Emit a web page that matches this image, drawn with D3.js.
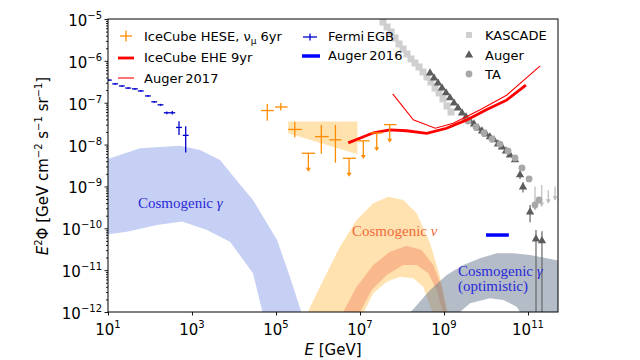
<!DOCTYPE html>
<html>
<head>
<meta charset="utf-8">
<script src="https://cdn.jsdelivr.net/npm/d3@7"></script>
<style>
  html, body { margin: 0; padding: 0; background: #fff; overflow: hidden; }
  svg { display: block; }
</style>
</head>
<body>
<script>
// E^2 Phi vs E, log-log

// Fermi EGB
const fermiE  = [10.5, 14.8, 21.4, 30.2, 43.7, 60.3, 89.1, 126, 178, 251, 339, 490, 708];
const fermiF  = [3.47e-7, 2.82e-7, 2.51e-7, 2.24e-7, 2.14e-7, 1.91e-7, 1.45e-7, 1.05e-7, 8.9e-8, 5.75e-8, 5.75e-8, 2.57e-8, 1.66e-8];
const fermiLo = [3.3e-7, 2.7e-7, 2.4e-7, 2.14e-7, 2.04e-7, 1.82e-7, 1.38e-7, 1.0e-7, 8.4e-8, 5.3e-8, 5.2e-8, 1.7e-8, 6.5e-9];
const fermiHi = [3.64e-7, 2.95e-7, 2.63e-7, 2.35e-7, 2.25e-7, 2.0e-7, 1.52e-7, 1.1e-7, 9.4e-8, 6.2e-8, 6.3e-8, 3.6e-8, 2.75e-8];
const fermiBin = 1.175;

// IceCube HESE
const heseE   = [6.2e4, 1.3e5, 2.8e5, 5.9e5, 1.2e6, 2.6e6, 5.5e6, 1.2e7, 2.5e7, 5.1e7];
const heseELo = [4.4e4, 9.5e4, 1.95e5, 4.1e5, 8.5e5, 1.85e6, 3.9e6, 8.5e6, 1.78e7, 3.7e7];
const heseEHi = [8.9e4, 1.9e5, 4.1e5, 8.5e5, 1.8e6, 3.6e6, 8.0e6, 1.7e7, 3.47e7, 7.4e7];
const heseF   = [6.5e-8, 7.9e-8, 2.3e-8, 6.2e-9, 1.55e-8, 1.3e-8, 4.7e-9, 1.23e-8, 1.9e-8, 3.0e-8];
const heseFLo = [3.7e-8, 6.5e-8, 1.5e-8, 2.25e-9, 6.0e-9, 3.7e-9, 1.7e-9, 4.5e-9, 6.9e-9, 1.1e-8];
const heseFHi = [9.3e-8, 9.8e-8, 3.5e-8, null, 2.95e-8, 2.95e-8, null, null, null, null];
const heseUL  = [false, false, false, true, false, false, true, true, true, true];

// IceCube numu 6yr band
const numuE  = [1.95e5, 8.7e6];
const numuHi = [3.55e-8, 3.55e-8];
const numuLo = [1.86e-8, 5.9e-9];

// IceCube EHE 9yr
const eheE = [5.25e6, 2.09e7, 5.13e7, 1.29e8, 3.89e8, 1.15e9, 3.47e9, 1.02e10, 3.09e10, 8.9e10];
const eheF = [1.10e-8, 1.91e-8, 2.24e-8, 2.14e-8, 1.86e-8, 2.45e-8, 3.89e-8, 6.76e-8, 1.15e-7, 2.63e-7];

// Auger 2017
const auger17E = [6.0e7, 1.86e8, 6.17e8, 1.66e9, 7.24e9, 3.09e10, 1.95e11];
const auger17F = [1.62e-7, 3.89e-8, 2.45e-8, 3.24e-8, 6.76e-8, 1.51e-7, 7.6e-7];

// Auger 2016 photon limit
const auger16E = [1.0e10, 3.5e10];
const auger16F = [6.9e-11, 6.9e-11];

// cosmic rays
const kascadeE = [3.53e7, 4.40e7, 5.47e7, 6.81e7, 8.49e7, 1.06e8, 1.32e8, 1.64e8, 2.04e8, 2.54e8, 3.16e8, 3.94e8, 4.90e8, 6.11e8, 7.60e8, 9.46e8, 1.18e9, 1.47e9];
const kascadeF = [8.47e-6, 6.44e-6, 4.89e-6, 3.52e-6, 2.53e-6, 1.92e-6, 1.46e-6, 1.11e-6, 8.89e-7, 7.13e-7, 5.42e-7, 4.11e-7, 3.13e-7, 2.25e-7, 1.71e-7, 1.23e-7, 8.36e-8, 6.0e-8];

const augerE  = [4.65e8, 5.78e8, 7.19e8, 8.96e8, 1.12e9, 1.39e9, 1.73e9, 2.15e9, 2.69e9, 3.34e9, 4.16e9, 5.18e9, 6.46e9, 8.04e9, 1.0e10, 1.24e10, 1.55e10, 1.93e10, 2.40e10, 2.99e10, 3.72e10, 4.90e10, 6.46e10, 7.60e10, 1.12e11, 1.55e11, 2.15e11];
const augerF  = [5.13e-7, 3.90e-7, 2.96e-7, 2.25e-7, 1.71e-7, 1.30e-7, 9.84e-8, 7.48e-8, 5.68e-8, 4.56e-8, 3.66e-8, 3.10e-8, 2.49e-8, 2.11e-8, 1.79e-8, 1.52e-8, 1.29e-8, 1.03e-8, 8.75e-9, 7.03e-9, 5.64e-9, 4.29e-9, 1.88e-9, 9.7e-10, 2.45e-10, 5.5e-11, 5.0e-11];
const augerLo = [null, null, null, null, null, null, null, null, null, null, null, null, null, null, null, null, null, null, null, null, null, null, 1.5e-9, 7.2e-10, 1.4e-10, 1e-13, 1e-13];
const augerHi = [null, null, null, null, null, null, null, null, null, null, null, null, null, null, null, null, null, null, null, null, null, null, 2.3e-9, 1.25e-9, 3.6e-10, 9.1e-11, 8.5e-11];

const taE = [3.72e9, 5.78e9, 8.96e9, 1.39e10, 2.15e10, 3.34e10, 4.90e10, 7.19e10, 1.06e11, 1.47e11, 1.83e11];
const taF = [3.66e-8, 2.63e-8, 1.89e-8, 1.36e-8, 1.03e-8, 7.03e-9, 4.79e-9, 2.76e-9, 1.51e-9, 3.60e-10, 4.74e-10];
const taUlE  = [1.47e11, 2.12e11, 3.04e11, 4.40e11];
const taUlF  = [9.9e-10, 1.08e-9, 8.2e-10, 9.9e-10];
const taUlLo = [2.7e-10, 3.3e-10, 3.95e-10, 4.7e-10];

// cosmogenic gamma band
const gamUpE = [8, 57.8, 518, 1550, 4650, 9460, 2.83e4, 1.06e5, 2.15e5, 4.16e5];
const gamUpF = [4.2e-9, 8.15e-9, 9.4e-9, 7.4e-9, 4.29e-9, 1.78e-9, 4.74e-10, 5.25e-11, 6.9e-12, 8.9e-13];
const gamLoE = [8, 28.2, 147, 578, 2275, 8035, 2.83e4, 4.9e4];
const gamLoF = [7.0e-11, 8.3e-11, 1.2e-10, 1.45e-10, 9.1e-11, 4.8e-11, 8.4e-12, 8.9e-13];

// cosmogenic neutrino bands
const nuOutUpE = [4.64e5, 1.34e6, 3.34e6, 8.34e6, 2.07e7, 4.72e7, 1.07e8, 2.24e8, 4.65e8, 8.04e8, 1.35e9];
const nuOutUpF = [6.5e-13, 5.82e-12, 3.63e-11, 1.58e-10, 3.95e-10, 5.69e-10, 4.74e-10, 2.28e-10, 4.39e-11, 6.98e-12, 6.5e-13];
const nuOutLoE = [1.0e7, 2.07e7, 4.33e7, 8.96e7, 1.86e8, 3.21e8, 6.11e8];
const nuOutLoF = [6.5e-13, 2.80e-12, 5.30e-12, 6.98e-12, 6.40e-12, 4.03e-12, 6.5e-13];
const nuInUpE = [3.16e6, 8.34e6, 2.07e7, 5.18e7, 1.29e8, 2.94e8, 5.56e8, 8.81e8, 1.24e9];
const nuInUpF = [6.5e-13, 4.03e-12, 1.33e-11, 2.76e-11, 3.84e-11, 3.03e-11, 1.33e-11, 4.03e-12, 6.5e-13];
const nuInLoE = [8.04e6, 1.90e7, 4.33e7, 1.07e8, 2.24e8, 4.23e8, 6.70e8, 1.06e9];
const nuInLoF = [6.5e-13, 3.36e-12, 7.66e-12, 1.33e-11, 1.33e-11, 8.41e-12, 3.36e-12, 6.5e-13];

// cosmogenic gamma (optimistic)
const optUpE = [1.12e8, 4.65e8, 1.16e9, 2.88e9, 7.19e9, 1.80e10, 4.47e10, 1.12e11, 2.79e11, 5.78e11, 5.78e11];
const optUpF = [6.5e-13, 3.36e-12, 7.66e-12, 1.33e-11, 1.92e-11, 2.53e-11, 2.53e-11, 2.30e-11, 1.92e-11, 1.66e-11, 6.5e-13];
const optHoleE = [1.47e9, 4.16e9, 1.24e10, 2.58e10, 5.38e10, 8.49e10];
const optHoleF = [6.5e-13, 1.61e-12, 2.13e-12, 1.94e-12, 1.34e-12, 6.5e-13];

const xExps = [1, 3, 5, 7, 9, 11];
const yExps = [-12, -11, -10, -9, -8, -7, -6, -5];

const margin = {top: 19, left: 108};
const innerWidth = 450;
const innerHeight = 293;

const svg = d3.select("body").append("svg")
    .attr("width", 640)
    .attr("height", 360);

svg.append("defs").append("clipPath").attr("id", "clip")
    .append("rect").attr("width", innerWidth).attr("height", innerHeight);

const plot = svg.append("g")
    .attr("transform", "translate(" + margin.left + "," + margin.top + ")");

const x = d3.scaleLog().domain([10, 5.18e11]).range([0, innerWidth]);
const y = d3.scaleLog().domain([1e-12, 1e-5]).range([innerHeight, 0]);
// page coordinates
const px = e => margin.left + x(e);
const py = f => margin.top + y(f);

const layer = plot.append("g").attr("clip-path", "url(#clip)");

const zip = (E, F) => E.map((e, i) => [e, F[i]]);
const line = d3.line().x(d => x(d[0])).y(d => y(d[1]));
const poly = pts => line(pts) + "Z";

// bands
layer.append("path")
    .attr("d", poly(zip(gamUpE, gamUpF).concat(zip(gamLoE, gamLoF).reverse())))
    .attr("fill", "#c6d0f4");

layer.append("path")
    .attr("d", poly(zip(nuOutUpE, nuOutUpF).concat(zip(nuOutLoE, nuOutLoF).reverse())))
    .attr("fill", "#ffe2b0");

layer.append("path")
    .attr("d", poly(zip(nuInUpE, nuInUpF).concat(zip(nuInLoE, nuInLoF).reverse())))
    .attr("fill", "#f9b98c");

layer.append("path")
    .attr("d", poly(zip(numuE, numuHi).concat(zip(numuE, numuLo).reverse())))
    .attr("fill", "#ffa500").attr("fill-opacity", 0.32);

layer.append("path")
    .attr("d", poly(zip(optUpE, optUpF).concat(zip(optHoleE, optHoleF).reverse())))
    .attr("fill", "#6f7f94").attr("fill-opacity", 0.52);

// cosmic rays
layer.selectAll(".kascade")
    .data(zip(kascadeE, kascadeF))
    .join("rect")
    .attr("class", "kascade")
    .attr("x", d => x(d[0]) - 3.5).attr("y", d => y(d[1]) - 3.5)
    .attr("width", 7).attr("height", 7)
    .attr("fill", "#cfcfcf");

augerE.forEach((e, i) => {
    if (augerLo[i] === null) return;
    layer.append("line")
        .attr("x1", x(e)).attr("x2", x(e))
        .attr("y1", y(augerHi[i])).attr("y2", y(augerLo[i]))
        .attr("stroke", "#666").attr("stroke-width", 1.2);
});

taUlE.forEach((e, i) => {
    const xx = x(e), y1 = y(taUlF[i]), y2 = y(taUlLo[i]);
    layer.append("line")
        .attr("x1", xx).attr("x2", xx).attr("y1", y1).attr("y2", y2)
        .attr("stroke", "#bbb").attr("stroke-width", 1.2);
    layer.append("path")
        .attr("d", `M${xx - 2.5},${y2 - 4}L${xx + 2.5},${y2 - 4}L${xx},${y2}Z`)
        .attr("fill", "#bbb");
});

const tri = d3.symbol().type(d3.symbolTriangle).size(30);
layer.selectAll(".auger")
    .data(zip(augerE, augerF))
    .join("path")
    .attr("class", "auger")
    .attr("d", tri)
    .attr("transform", d => "translate(" + x(d[0]) + "," + y(d[1]) + ")")
    .attr("fill", "#5c5c5c");

layer.selectAll(".ta")
    .data(zip(taE, taF))
    .join("circle")
    .attr("class", "ta")
    .attr("cx", d => x(d[0])).attr("cy", d => y(d[1]))
    .attr("r", 3.4)
    .attr("fill", "#a8a8a8");

// lines
layer.append("path")
    .attr("d", line(zip(auger17E, auger17F)))
    .attr("fill", "none").attr("stroke", "red").attr("stroke-width", 1.1);

layer.append("path")
    .attr("d", line(zip(eheE, eheF)))
    .attr("fill", "none").attr("stroke", "red").attr("stroke-width", 2.8);

// Fermi EGB
const fermi = layer.append("g").attr("stroke", "mediumblue").attr("stroke-width", 1.3);
fermiE.forEach((e, i) => {
    fermi.append("line")
        .attr("x1", x(e / fermiBin)).attr("x2", x(e * fermiBin))
        .attr("y1", y(fermiF[i])).attr("y2", y(fermiF[i]));
    fermi.append("line")
        .attr("x1", x(e)).attr("x2", x(e))
        .attr("y1", y(fermiHi[i])).attr("y2", y(fermiLo[i]));
});

// IceCube HESE
const hese = layer.append("g");
heseE.forEach((e, i) => {
    const xx = x(e), yy = y(heseF[i]);
    hese.append("line")
        .attr("x1", x(heseELo[i])).attr("x2", x(heseEHi[i]))
        .attr("y1", yy).attr("y2", yy)
        .attr("stroke", "darkorange").attr("stroke-width", 1.3);
    if (heseUL[i]) {
        const yb = y(heseFLo[i]);
        hese.append("line")
            .attr("x1", xx).attr("x2", xx).attr("y1", yy).attr("y2", yb - 3)
            .attr("stroke", "darkorange").attr("stroke-width", 1.3);
        hese.append("path")
            .attr("d", `M${xx - 2.5},${yb - 4}L${xx + 2.5},${yb - 4}L${xx},${yb}Z`)
            .attr("fill", "darkorange");
    } else {
        hese.append("line")
            .attr("x1", xx).attr("x2", xx)
            .attr("y1", y(heseFHi[i])).attr("y2", y(heseFLo[i]))
            .attr("stroke", "darkorange").attr("stroke-width", 1.3);
    }
});

// Auger 2016
layer.append("path")
    .attr("d", line(zip(auger16E, auger16F)))
    .attr("stroke", "blue").attr("stroke-width", 3.5);

// axes
plot.append("g")
    .attr("transform", "translate(0," + innerHeight + ")")
    .call(d3.axisBottom(x).tickValues(xExps.map(k => Math.pow(10, k))).tickSize(3.5).tickFormat(""))
    .call(g => g.select(".domain").remove());

const yMinor = [];
for (let k = -12; k < -5; k++) for (let m = 2; m < 10; m++) yMinor.push(m * Math.pow(10, k));
plot.append("g")
    .call(d3.axisLeft(y).tickValues(yMinor).tickSize(2).tickFormat(""))
    .call(g => g.select(".domain").remove());
plot.append("g")
    .call(d3.axisLeft(y).tickValues(yExps.map(k => Math.pow(10, k))).tickSize(3.5).tickFormat(""))
    .call(g => g.select(".domain").remove());

plot.selectAll(".tick line").attr("stroke", "#000").attr("stroke-width", 0.9);
plot.selectAll(".tick text").remove();

plot.append("rect")
    .attr("width", innerWidth).attr("height", innerHeight)
    .attr("fill", "none").attr("stroke", "#000").attr("stroke-width", 1);

// all text sits directly on the svg, in page coordinates
const sans = "'DejaVu Sans', sans-serif";
const serif = "'Liberation Serif', 'Times New Roman', serif";
function addText(tx, ty, size, anchor, parts, opts) {
    opts = opts || {};
    const t = svg.append("text")
        .attr("x", tx).attr("y", ty)
        .attr("text-anchor", anchor || "start")
        .style("font-family", opts.family || sans)
        .style("font-size", size + "px")
        .style("fill", opts.fill || "#000");
    if (opts.transform) t.attr("transform", opts.transform);
    parts.forEach((p, i) => {
        // plain leading text goes straight into the text node
        if (i === 0 && !p.dy && !p.size && !p.italic) {
            t.append(() => document.createTextNode(p.t));
            return;
        }
        const s = t.append("tspan").text(p.t);
        if (p.dy) s.attr("dy", p.dy);
        if (p.size) s.style("font-size", p.size + "px");
        if (p.italic) s.style("font-style", "italic");
    });
    return t;
}

const sup = k => (k < 0 ? "\u2212" + (-k) : "" + k);

xExps.forEach(k => {
    addText(px(Math.pow(10, k)), margin.top + innerHeight + 23, 15, "middle",
        [{t: "10"}, {t: sup(k), dy: -7, size: 10}]);
});

yExps.forEach(k => {
    addText(margin.left - 6, py(Math.pow(10, k)) + 7, 15, "end",
        [{t: "10"}, {t: sup(k), dy: -7, size: 10}]);
});

// band labels
addText(138, 208, 15, "start", [{t: "Cosmogenic "}, {t: "γ", italic: true}], {family: serif, fill: "#2a2ad8"});
addText(352, 236, 15, "start", [{t: "Cosmogenic "}, {t: "ν", italic: true}], {family: serif, fill: "#f06a3a"});
addText(458, 276, 15, "start", [{t: "Cosmogenic "}, {t: "γ", italic: true}], {family: serif, fill: "#2a2ad8"});
addText(458, 291, 15, "start", [{t: "(optimistic)"}], {family: serif, fill: "#2a2ad8"});

// axis titles
addText(333, 355, 15, "middle", [{t: "E", italic: true}, {t: " [GeV]"}]);
addText(0, 0, 15, "middle", [
    {t: "E", italic: true}, {t: "2", dy: -6, size: 10}, {t: "Φ [GeV cm", dy: 6},
    {t: "\u22122", dy: -6, size: 10}, {t: " s", dy: 6},
    {t: "\u22121", dy: -6, size: 10}, {t: " sr", dy: 6},
    {t: "\u22121", dy: -6, size: 10}, {t: "]", dy: 6}
], {transform: "translate(48,166) rotate(-90)"});

// legend
const legend = svg.append("g");
// column 1
legend.append("line").attr("x1", 120).attr("x2", 132).attr("y1", 36).attr("y2", 36)
    .attr("stroke", "darkorange").attr("stroke-width", 1.3);
legend.append("line").attr("x1", 126).attr("x2", 126).attr("y1", 30.5).attr("y2", 41.5)
    .attr("stroke", "darkorange").attr("stroke-width", 1.3);
addText(144, 40.5, 13, "start", [{t: "IceCube HESE, ν"}, {t: "μ", dy: 3, size: 9}, {t: " 6yr", dy: -3}]);
legend.append("line").attr("x1", 118).attr("x2", 134).attr("y1", 58).attr("y2", 58)
    .attr("stroke", "red").attr("stroke-width", 2.8);
addText(144, 62, 13, "start", [{t: "IceCube EHE 9yr"}]);
legend.append("line").attr("x1", 118).attr("x2", 134).attr("y1", 78).attr("y2", 78)
    .attr("stroke", "red").attr("stroke-width", 1.1);
addText(144, 83, 13, "start", [{t: "Auger\u20092017"}]);

// column 2
legend.append("line").attr("x1", 303).attr("x2", 317).attr("y1", 37).attr("y2", 37)
    .attr("stroke", "mediumblue").attr("stroke-width", 1.3);
legend.append("line").attr("x1", 310).attr("x2", 310).attr("y1", 33.5).attr("y2", 40.5)
    .attr("stroke", "mediumblue").attr("stroke-width", 1.3);
addText(328, 40.5, 13, "start", [{t: "Fermi\u2009EGB"}]);
legend.append("line").attr("x1", 302).attr("x2", 320).attr("y1", 56).attr("y2", 56)
    .attr("stroke", "blue").attr("stroke-width", 3.5);
addText(328, 60, 13, "start", [{t: "Auger\u20092016"}]);

// column 3
legend.append("rect").attr("x", 466).attr("y", 32).attr("width", 6).attr("height", 6).attr("fill", "#cfcfcf");
legend.append("path").attr("d", tri).attr("transform", "translate(469,55)").attr("fill", "#5c5c5c");
legend.append("circle").attr("cx", 469).attr("cy", 74).attr("r", 3.4).attr("fill", "#a8a8a8");
addText(485, 40, 13, "start", [{t: "KASCADE"}]);
addText(485, 59.5, 13, "start", [{t: "Auger"}]);
addText(485, 78.5, 13, "start", [{t: "TA"}]);
</script>
</body>
</html>
